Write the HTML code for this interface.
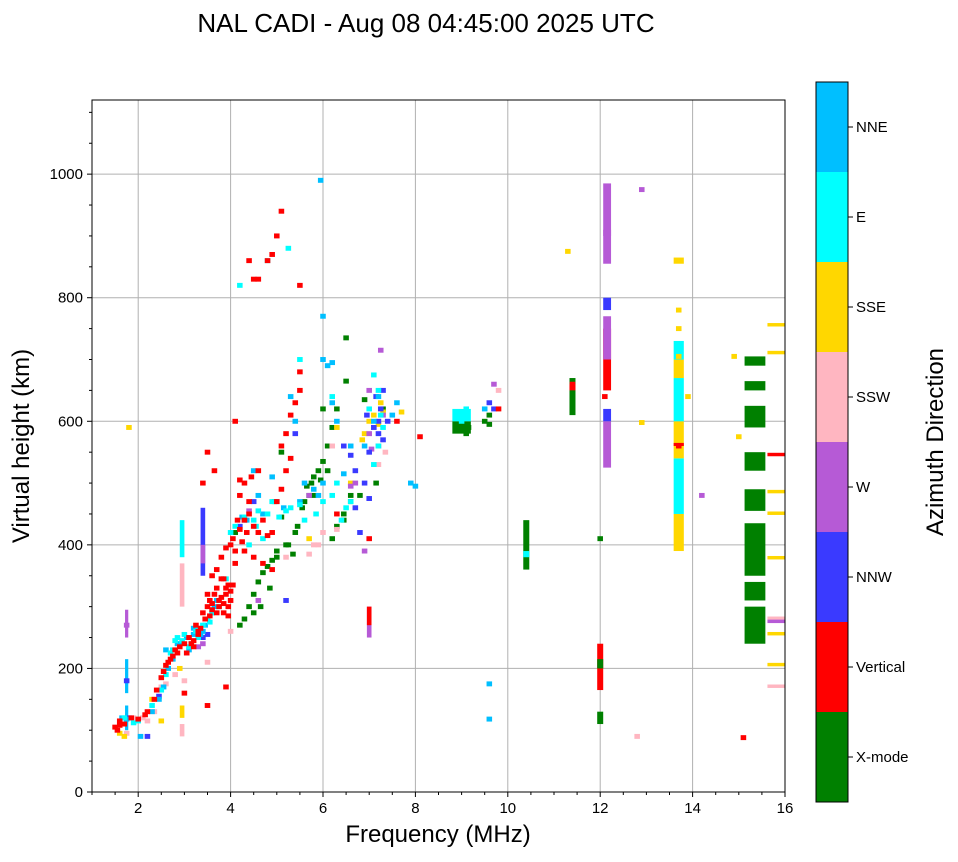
<!DOCTYPE html>
<html><head><meta charset="utf-8">
<style>
body{margin:0;background:#fff;}
svg text{font-family:"Liberation Sans",sans-serif;fill:#000;}
</style></head>
<body>
<svg id="chart" width="958" height="857" xmlns="http://www.w3.org/2000/svg">
<text x="426" y="32" font-size="26" text-anchor="middle">NAL CADI - Aug 08 04:45:00 2025 UTC</text>
<g id="grid"></g>
<g id="marks"></g>
<rect x="92" y="100" width="693" height="692" fill="none" stroke="#000" stroke-width="1"/>
<g id="axes"></g>
<text x="438" y="842" font-size="24" text-anchor="middle">Frequency (MHz)</text>
<text x="0" y="0" font-size="24" text-anchor="middle" transform="translate(29,446) rotate(-90)">Virtual height (km)</text>
<g id="cbar"></g>
<text x="0" y="0" font-size="24" text-anchor="middle" transform="translate(943,442) rotate(-90)">Azimuth Direction</text>
</svg>
<script>
const classNames=["X-mode","Vertical","NNW","W","SSW","SSE","E","NNE"];
const classColors=["#008000","#ff0000","#3a3aff","#b65ad6","#ffb6c1","#ffd700","#00ffff","#00bfff"];
const xTicks=[2,4,6,8,10,12,14,16];
const yTicks=[0,200,400,600,800,1000];
// echoes per azimuth class: frequency (MHz) and virtual height (km)
const redF=[1.5,1.55,1.6,1.7,1.85,2.0,2.15,2.2,2.35,2.4,
 2.5,2.55,2.6,2.65,2.7,2.75,2.8,2.9,3.0,3.05,
 3.1,3.2,3.25,3.3,3.4,3.5,3.55,3.6,3.65,3.7,
 3.75,3.8,3.85,3.9,3.95,4.0,3.7,3.8,3.9,4.0,
 4.05,4.1,3.6,3.5,4.2,4.3,4.15,4.4,4.5,4.6,
 4.7,4.8,4.9,4.2,4.3,4.45,4.6,4.2,4.4,4.1,
 3.5,3.65,3.4,5.0,5.1,5.2,5.3,5.1,5.2,5.4,
 5.5,5.3,5.5,5.1,5.0,4.9,4.8,4.6,4.5,4.4,
 5.5,4.3,4.5,4.7,4.9,3.0,3.5,3.9,6.3,7.0,
 8.1,7.6,9.8,11.4,12.1,13.7,15.8,15.1,3.85,3.95,
 3.2,3.3,3.45,3.6,3.75,3.9,4.0,4.1,3.95,3.8,
 2.85,3.15,3.35,3.55,3.7,3.85,4.05,4.25,4.35,1.6];
const redH=[105,100,115,110,120,118,125,130,150,165,
 185,195,205,210,215,220,230,235,240,225,
 250,245,270,260,290,300,310,305,320,330,
 300,315,345,320,335,310,360,380,395,400,
 410,390,350,320,425,440,440,450,430,420,
 440,415,420,480,500,510,520,505,470,600,
 550,520,500,470,490,520,540,560,580,630,
 650,610,680,940,900,870,860,830,830,860,
 820,390,380,370,360,160,140,170,450,410,
 575,600,620,660,640,560,545,88,290,285,
 235,255,280,295,310,330,325,370,300,345,
 225,240,265,285,290,305,335,405,420,108];
const cyanF=[1.7,1.9,2.0,2.3,2.5,2.6,2.7,2.8,2.85,3.0,
 3.15,3.3,3.5,3.6,3.75,3.9,4.0,4.3,4.5,4.6,
 4.8,4.9,5.2,5.3,5.5,5.6,5.85,6.0,6.3,6.2,
 6.4,6.5,6.6,7.1,7.2,7.3,7.0,7.2,7.1,4.2,
 4.8,5.25,5.5,6.2,8.9,9.0,9.1,4.7,4.4,3.3,
 2.95,3.1,3.25,3.4,3.55,2.75,4.1,4.55,5.05,7.25];
const cyanH=[120,112,115,140,165,190,225,245,250,255,
 240,265,280,290,300,345,420,445,440,455,
 450,470,455,460,465,440,450,470,500,480,
 440,460,470,530,560,590,620,650,675,820,
 860,880,700,640,610,600,620,410,400,250,
 245,235,260,270,275,230,430,430,445,610];
const nneF=[1.65,1.75,2.05,2.3,2.45,2.55,2.65,2.75,2.9,3.1,
 3.2,3.4,3.45,3.6,3.7,4.25,4.5,4.7,4.6,5.0,
 5.5,5.6,5.8,6.0,6.0,6.1,6.2,6.2,5.4,5.3,
 6.0,5.9,6.3,7.1,7.2,7.5,7.9,9.5,9.6,9.6,
 6.9,5.95,6.45,7.6,8.0,3.2,3.35,2.6,4.9,6.6,
 3.05,3.25,3.5,2.85,3.65,4.35,5.15];
const nneH=[120,118,90,130,150,170,200,215,240,230,
 255,260,270,290,310,445,520,450,480,470,
 470,500,490,770,700,690,695,630,600,640,
 500,480,600,600,640,610,500,620,175,118,
 560,990,515,630,495,265,255,230,510,560,
 250,260,280,240,300,440,460];
const greenF=[4.2,4.3,4.4,4.5,4.6,4.7,4.8,4.9,5.0,5.2,
 5.0,5.35,5.4,5.45,5.55,5.6,5.7,5.75,5.8,5.9,
 6.0,6.1,6.2,6.3,6.5,6.5,6.3,6.45,6.6,6.8,
 7.15,6.2,6.1,5.1,5.8,6.0,4.95,5.1,4.1,8.9,
 9.1,9.5,9.6,9.15,9.6,12.0,6.9,7.3,6.45,6.6,
 4.5,4.65,4.85,5.25,5.65,5.95];
const greenH=[270,280,300,320,340,355,365,375,390,400,
 380,385,420,430,460,470,480,500,510,520,
 535,560,590,620,665,735,430,450,470,480,
 500,410,520,550,480,620,470,445,420,590,
 580,600,595,590,610,410,635,620,440,480,
 290,300,330,400,495,505];
const blueF=[1.75,1.8,2.2,2.45,3.4,3.5,4.5,5.4,6.45,6.6,
 6.7,6.9,7.0,7.1,7.2,7.3,7.25,7.15,7.3,6.95,
 6.8,9.6,9.7,7.0,4.2,5.2,4.3,7.4,6.7,7.2];
const blueH=[180,120,90,155,250,255,470,580,560,545,
 520,500,475,590,600,570,620,640,650,610,
 420,630,620,550,430,310,440,600,460,580];
const purpleF=[1.75,3.05,3.3,4.6,5.7,6.6,6.7,7.0,7.2,7.25,
 7.05,9.7,12.9,14.2,15.8,6.9,7.0,4.4,7.3,3.4];
const purpleH=[270,225,235,310,480,495,500,580,560,715,
 555,660,975,480,275,390,650,455,610,240];
const pinkF=[1.75,1.9,2.2,2.35,2.5,2.8,3.0,3.5,4.0,5.2,
 5.7,5.8,5.9,6.0,6.3,7.2,7.1,7.35,6.2,12.8,
 15.8,15.8,4.4,9.8,2.6,2.1];
const pinkH=[95,120,115,130,170,190,180,210,260,380,
 385,400,400,420,425,530,590,550,560,90,
 170,280,450,650,175,120];
const goldF=[1.6,1.7,1.8,2.3,2.5,2.9,5.7,6.3,6.6,6.9,
 7.1,7.2,7.25,7.3,7.7,11.3,12.9,15.0,15.8,15.8,
 15.8,15.8,15.8,15.8,15.8,14.9,13.9,13.7,13.7,13.7,
 7.0,6.85];
const goldH=[95,90,590,150,115,200,410,590,500,580,
 610,595,630,615,615,875,598,575,755,710,
 485,450,378,255,205,705,640,780,750,705,
 600,570];
// vertical columns of echoes (MHz, km)
const colFreq=[15.35,15.35,15.35,15.35,15.35,15.35,15.35,15.35,13.7,13.7,13.7,13.7,13.7,13.7,13.7,13.7,12.15,12.15,12.15,12.15,12.15,12.15,12.15,11.4,11.4,12.0,12.0,12.0,10.4,10.4,2.95,2.95,2.95,2.95,3.4,3.4,1.75,1.75,1.75,7.0,7.0,9.0,9.0];
const colLow=[240,310,350,455,520,590,650,690,390,450,540,600,670,700,855,560,855,900,650,700,780,525,600,610,650,110,165,200,360,380,380,300,90,120,350,370,100,160,250,250,270,580,600];
const colHigh=[300,340,435,490,550,625,665,705,450,540,600,670,700,730,865,565,985,910,750,770,800,600,620,670,660,130,240,215,440,390,440,370,110,140,460,400,140,215,295,300,300,600,620];
const colClass=[0,0,0,0,0,0,0,0,5,6,5,6,5,6,5,1,3,3,1,3,2,3,2,0,1,0,1,0,0,6,6,4,4,5,2,3,7,7,3,3,1,0,6];
const colWidth=[0.45,0.45,0.45,0.45,0.45,0.45,0.45,0.45,0.22,0.22,0.22,0.22,0.22,0.22,0.22,0.22,0.17,0.17,0.17,0.17,0.17,0.17,0.17,0.13,0.13,0.13,0.13,0.13,0.13,0.13,0.1,0.1,0.1,0.1,0.1,0.1,0.07,0.07,0.07,0.1,0.1,0.4,0.4];

const NS="http://www.w3.org/2000/svg";
const X0=92,X1=785,Y0=792,Y1=100;
const xs=f=>X0+(f-1)/15*(X1-X0);
const ys=h=>Y0-h/1120*(Y0-Y1);
function mk(tag,attrs,parent){const e=document.createElementNS(NS,tag);for(const k in attrs)e.setAttribute(k,attrs[k]);parent.appendChild(e);return e;}
const grid=document.getElementById('grid'),marks=document.getElementById('marks'),axes=document.getElementById('axes'),cbar=document.getElementById('cbar');
xTicks.forEach(t=>{
  const g=mk('line',{x1:xs(t),x2:xs(t),y1:Y1,y2:Y0,stroke:'#b0b0b0','stroke-width':1},grid);
  
  
  mk('line',{x1:xs(t),x2:xs(t),y1:Y0,y2:Y0+5,stroke:'#000'},axes);
  const tx=mk('text',{x:xs(t),y:Y0+21,'font-size':15,'text-anchor':'middle'},axes);tx.textContent=t;
  
  
});
for(let m=1;m<=16;m+=0.5){if(Number.isInteger(m)&&m%2===0)continue;mk('line',{x1:xs(m),x2:xs(m),y1:Y0,y2:Y0+3,stroke:'#000'},axes);}
yTicks.forEach(t=>{
  const g=mk('line',{x1:X0,x2:X1,y1:ys(t),y2:ys(t),stroke:'#b0b0b0','stroke-width':1},grid);
  
  
  mk('line',{x1:X0-5,x2:X0,y1:ys(t),y2:ys(t),stroke:'#000'},axes);
  const tx=mk('text',{x:X0-9,y:ys(t)+5,'font-size':15,'text-anchor':'end'},axes);tx.textContent=t;
  
  
});
for(let m=0;m<=1100;m+=50){if(m%200===0)continue;mk('line',{x1:X0-3,x2:X0,y1:ys(m),y2:ys(m),stroke:'#000'},axes);}
colFreq.forEach((f,i)=>{
  const w=xs(1+colWidth[i])-xs(1);
  const r=mk('rect',{x:xs(f)-w/2,y:ys(colHigh[i]),width:w,height:ys(colLow[i])-ys(colHigh[i]),fill:classColors[colClass[i]]},marks);
  
  
});
const cw=xs(1.12)-xs(1), ch=ys(0)-ys(8);
const series=[[greenF,greenH,0],[pinkF,pinkH,4],[goldF,goldH,5],[purpleF,purpleH,3],[blueF,blueH,2],[nneF,nneH,7],[cyanF,cyanH,6],[redF,redH,1]];
series.forEach(([F,H,c])=>{
  F.forEach((f,i)=>{
    const edge=f>=15.75;
    const x=edge?xs(15.62):xs(f)-cw/2;
    const w=edge?X1-xs(15.62):cw;
    const r=mk('rect',{x:x,y:ys(H[i])-ch/2,width:w,height:edge?ch*0.7:ch,fill:classColors[c]},marks);
    
    
  });
});
const CB={x:816,w:32,top:82,bot:802};const seg=(CB.bot-CB.top)/classNames.length;
classNames.forEach((n,i)=>{
  const y=CB.bot-(i+1)*seg;
  const r=mk('rect',{x:CB.x,y:y,width:CB.w,height:seg,fill:classColors[i]},cbar);
  
  
  mk('line',{x1:CB.x+CB.w,x2:CB.x+CB.w+5,y1:y+seg/2,y2:y+seg/2,stroke:'#000'},cbar);
  const t=mk('text',{x:CB.x+CB.w+8,y:y+seg/2+5,'font-size':15},cbar);t.textContent=n;
  
  
});
mk('rect',{x:CB.x,y:CB.top,width:CB.w,height:CB.bot-CB.top,fill:'none',stroke:'#000'},cbar);
</script>
</body></html>
